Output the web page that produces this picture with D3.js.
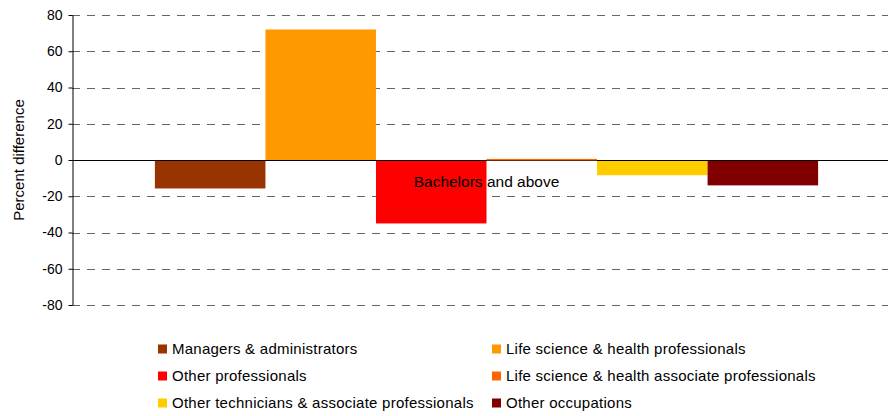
<!DOCTYPE html>
<html>
<head>
<meta charset="utf-8">
<script src="https://cdn.jsdelivr.net/npm/d3@7"></script>
<style>
  body { margin: 0; background: #fff; }
  svg { display: block; font-family: "Liberation Sans", Arial, sans-serif; }
</style>
</head>
<body>
<svg id="chart" width="888" height="416"></svg>
<script>
// data
var categories = ["Bachelors and above"];
var seriesNames = [
  "Managers & administrators",
  "Life science & health professionals",
  "Other professionals",
  "Life science & health associate professionals",
  "Other technicians & associate professionals",
  "Other occupations"
];
var seriesValues = [-15.7, 72, -35, 0.6, -8.4, -14];
var seriesColors = ["#993300", "#FF9900", "#FF0000", "#FF6600", "#FFCC00", "#800000"];
var yTicks = [-80, -60, -40, -20, 0, 20, 40, 60, 80];

var svg = d3.select("#chart");
var plotLeft = 72, plotRight = 901, plotTop = 15, plotBottom = 305;

var x0 = d3.scaleBand()
  .domain(categories)
  .range([plotLeft, plotRight])
  .paddingInner(0)
  .paddingOuter(0.125);

var x1 = d3.scaleBand()
  .domain(seriesNames)
  .range([0, x0.bandwidth()])
  .padding(0);

var y = d3.scaleLinear()
  .domain([-80, 80])
  .range([plotBottom, plotTop]);

// dashed gridlines
svg.append("g")
  .selectAll("line")
  .data(yTicks.filter(function(d) { return d !== 0; }))
  .join("line")
  .attr("x1", plotLeft)
  .attr("x2", plotRight)
  .attr("y1", function(d) { return Math.round(y(d)) + 0.5; })
  .attr("y2", function(d) { return Math.round(y(d)) + 0.5; })
  .attr("stroke", "#666")
  .attr("stroke-width", 1)
  .attr("stroke-dasharray", "8,7");

// zero line
svg.append("line")
  .attr("x1", plotLeft)
  .attr("x2", plotRight)
  .attr("y1", Math.round(y(0)) + 0.5)
  .attr("y2", Math.round(y(0)) + 0.5)
  .attr("stroke", "#000")
  .attr("stroke-width", 1);

// bars
var g = svg.append("g")
  .attr("transform", "translate(" + x0(categories[0]) + ",0)");

g.selectAll("rect")
  .data(seriesValues)
  .join("rect")
  .attr("x", function(d, i) { return x1(seriesNames[i]); })
  .attr("width", x1.bandwidth())
  .attr("y", function(d) { return d > 0 ? y(d) : Math.round(y(0)) + 1; })
  .attr("height", function(d) { return d > 0 ? Math.max(1.5, Math.round(y(0)) - y(d)) : y(d) - Math.round(y(0)) - 1; })
  .attr("fill", function(d, i) { return seriesColors[i]; });

// y axis
var yAxis = svg.append("g")
  .attr("transform", "translate(" + (plotLeft + 0.5) + ",0)")
  .call(d3.axisLeft(y).tickValues(yTicks).tickFormat(function(d) { return String(d); })
    .tickSize(4).tickPadding(6).tickSizeOuter(0));

yAxis.select(".domain").attr("stroke", "#000");
yAxis.selectAll(".tick line").attr("stroke", "#000");
yAxis.selectAll("text")
  .attr("font-size", 14)
  .attr("font-family", "Liberation Sans, Arial, sans-serif")
  .attr("fill", "#000");

// y axis title
svg.append("text")
  .attr("transform", "translate(24," + ((plotTop + plotBottom) / 2) + ") rotate(-90)")
  .attr("text-anchor", "middle")
  .attr("font-size", 15)
  .text("Percent difference");

// category label
svg.append("text")
  .attr("x", x0(categories[0]) + x0.bandwidth() / 2)
  .attr("y", y(0) + 27)
  .attr("text-anchor", "middle")
  .attr("font-size", 15.5)
  .text(categories[0]);

// legend
var legend = svg.append("g");
var items = legend.selectAll("g")
  .data(seriesNames)
  .join("g")
  .attr("transform", function(d, i) {
    var col = i % 2, row = Math.floor(i / 2);
    return "translate(" + (158 + col * 334) + "," + (349 + row * 27) + ")";
  });

items.append("rect")
  .attr("x", 0)
  .attr("y", -4.5)
  .attr("width", 9)
  .attr("height", 9)
  .attr("fill", function(d, i) { return seriesColors[i]; });

items.append("text")
  .attr("x", 14)
  .attr("y", 5)
  .attr("font-size", 15)
  .attr("letter-spacing", 0.25)
  .text(function(d) { return d; });
</script>
</body>
</html>
